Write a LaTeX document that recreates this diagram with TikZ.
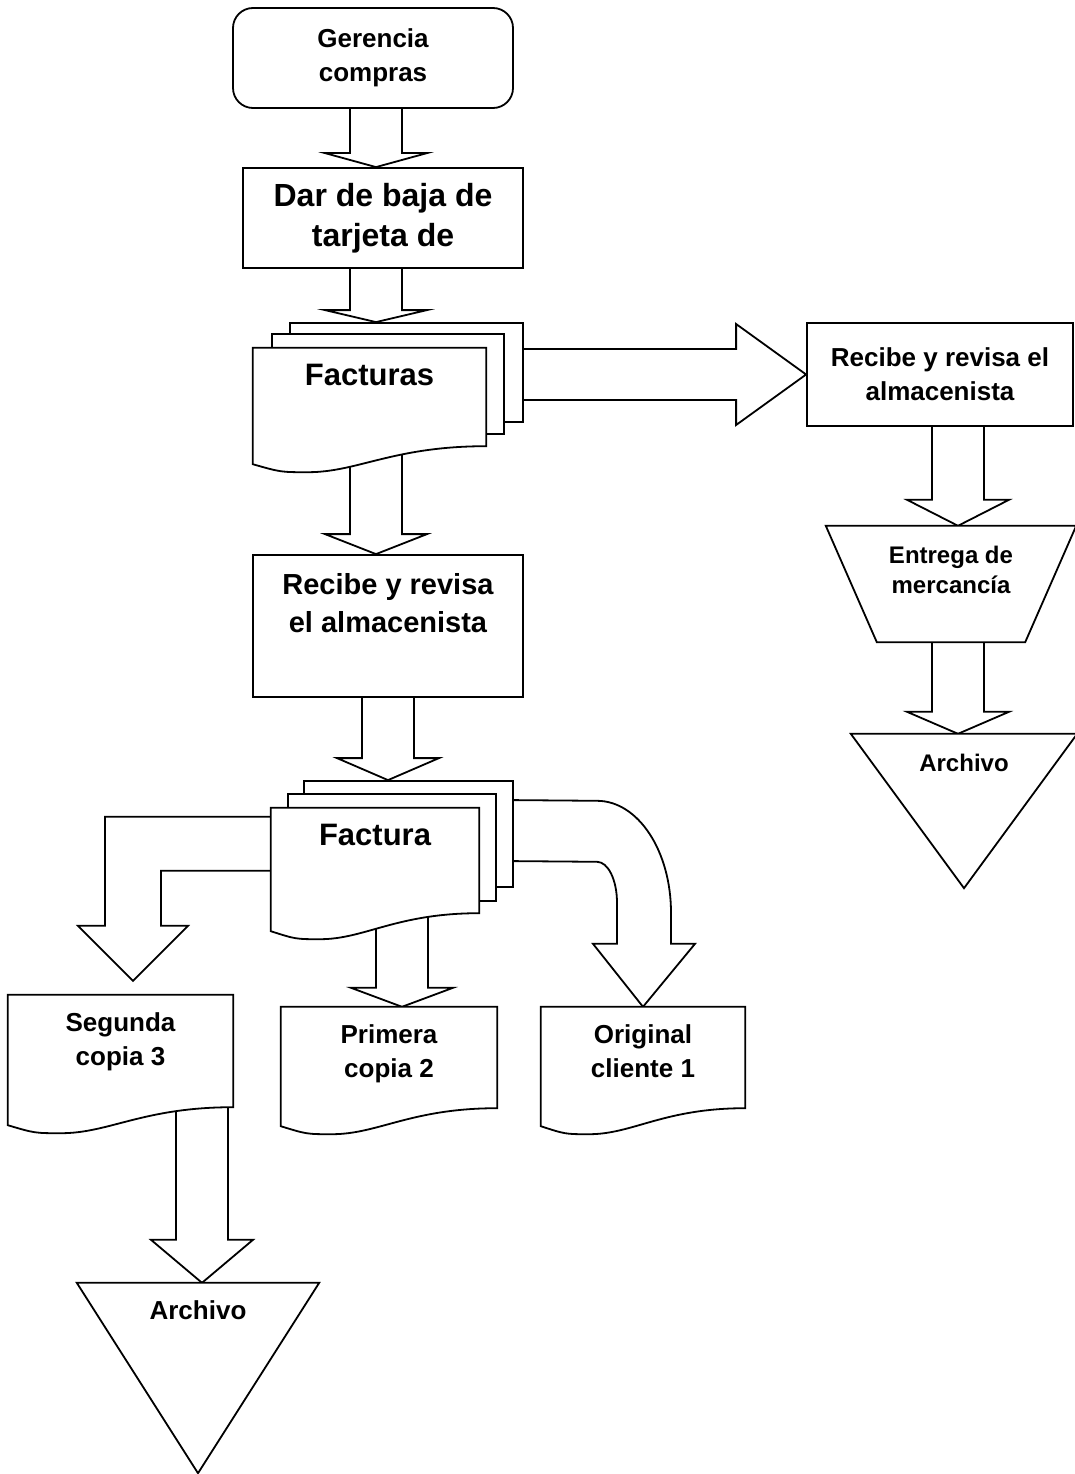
\documentclass[tikz,border=0pt]{standalone}
\usepackage{fontspec}
\setmainfont{Liberation Sans}
\usetikzlibrary{positioning, calc, backgrounds}

\tikzset{
  outline/.style={draw=black, line width=1.8pt},
  procbox/.style={rectangle, outline, fill=white, inner sep=0pt, align=center},
  pagebox/.style={rectangle, outline, fill=white, inner sep=0pt},
  docbody/.style={rectangle, inner sep=0pt},
  doctext/.style={inner sep=0pt, align=center},
  blockarrow/.style={outline, fill=white},
  hugefont/.style={font=\fontsize{32}{40}\selectfont\bfseries},
  bigfont/.style={font=\fontsize{31}{38}\selectfont\bfseries},
  midfont/.style={font=\fontsize{29}{38}\selectfont\bfseries},
  normfont/.style={font=\fontsize{26}{34}\selectfont\bfseries},
  smallfont/.style={font=\fontsize{24}{30}\selectfont\bfseries},
}

% document sheet with wavy bottom, drawn round a named node
\newcommand{\docshape}[2]{%
  \draw[outline, fill=white] (#1.north west) -- (#1.north east) -- (#1.south east)
    .. controls ($(#1.south east)+(-0.4*#2,0)$) and ($(#1.south east)+(-0.55*#2,26)$)
    .. ($(#1.south east)+(-0.765*#2,26)$)
    .. controls ($(#1.south west)+(0.12*#2,26)$) .. ($(#1.south west)+(0,18)$) -- cycle;}

% manual operation (narrow at the bottom) round a named node
\newcommand{\trapshape}[2]{%
  \draw[outline, fill=white] (#1.north west) -- (#1.north east)
    -- ($(#1.south east)+(-#2,0)$) -- ($(#1.south west)+(#2,0)$) -- cycle;}

% file (triangle pointing down) round a named node
\newcommand{\archshape}[1]{%
  \draw[outline, fill=white] (#1.north west) -- (#1.north east) -- (#1.south) -- cycle;}

% hollow block arrow pointing down
\newcommand{\blockdown}[3]{%
  \draw[blockarrow] ($#1+(-26,0)$) -- ($#2+(-26,-#3)$) -- ($#2+(-51,-#3)$) -- #2
    -- ($#2+(51,-#3)$) -- ($#2+(26,-#3)$) -- ($#1+(26,0)$);}

\begin{document}
\begin{tikzpicture}[x=1pt, y=-1pt]
  \useasboundingbox (0,0) rectangle (1075,1474);

  % --- main column ---
  \node[procbox, normfont, rounded corners=20pt, minimum width=280pt, minimum height=100pt]
    (ger) at (373,58) {Gerencia\\compras};
  \node[procbox, hugefont, minimum width=280pt, minimum height=100pt]
    (dar) at (383,218) {Dar de baja de\\tarjeta de};

  \node[pagebox, minimum width=233pt, minimum height=99pt] (facs3) at (406.5,372.5) {};
  \node[pagebox, minimum width=232pt, minimum height=100pt] (facs2) at (388,384) {};
  \node[docbody, minimum width=233pt, minimum height=98pt] (facs) at (369.5,397) {};
  \docshape{facs}{233}
  \node[doctext, bigfont, below=16pt of facs.north] (facs-txt) {Facturas};

  \node[procbox, minimum width=270pt, minimum height=142pt] (rec) at (388,626) {};
  \node[doctext, midfont, below=19pt of rec.north] (rec-txt) {Recibe y revisa\\el almacenista};

  \node[pagebox, minimum width=209pt, minimum height=106pt] (fac3) at (408.5,834) {};
  \node[pagebox, minimum width=208pt, minimum height=107pt] (fac2) at (392,847.5) {};
  \node[docbody, minimum width=208pt, minimum height=105pt] (fac) at (375,860.5) {};
  \docshape{fac}{208}
  \node[doctext, bigfont, below=16pt of fac.north] (fac-txt) {Factura};

  % --- copies ---
  \node[docbody, minimum width=225pt, minimum height=112pt] (seg) at (120.5,1051) {};
  \docshape{seg}{225}
  \node[doctext, normfont, below=18pt of seg.north] (seg-txt) {Segunda\\copia 3};

  \node[docbody, minimum width=216pt, minimum height=101pt] (pri) at (389,1057.5) {};
  \docshape{pri}{216}
  \node[doctext, normfont, below=18pt of pri.north] (pri-txt) {Primera\\copia 2};

  \node[docbody, minimum width=204pt, minimum height=101pt] (ori) at (643,1057.5) {};
  \docshape{ori}{204}
  \node[doctext, normfont, below=18pt of ori.north] (ori-txt) {Original\\cliente 1};

  \node[docbody, minimum width=242pt, minimum height=190pt] (arch1) at (198,1378) {};
  \archshape{arch1}
  \node[doctext, normfont, below=17.5pt of arch1.north] (arch1-txt) {Archivo};

  % --- right column ---
  \node[procbox, normfont, minimum width=266pt, minimum height=103pt]
    (rrec) at (940,374.5) {Recibe y revisa el\\almacenista};
  \node[docbody, minimum width=250pt, minimum height=116pt] (ent) at (951,584) {};
  \trapshape{ent}{51}
  \node[doctext, smallfont, below=20pt of ent.north] (ent-txt) {Entrega de\\mercancía};
  \node[docbody, minimum width=226pt, minimum height=154pt] (arch2) at (964,811) {};
  \archshape{arch2}
  \node[doctext, smallfont, below=20pt of arch2.north] (arch2-txt) {Archivo};

  % --- block arrows ---
  \coordinate (colA) at (376,0);
  \coordinate (colB) at (402,0);
  \coordinate (colC) at (958,0);
  \coordinate (colD) at (202,0);
  \coordinate (segtip) at ($(seg.north)+(12.5,-14)$);
  \coordinate (oritip) at (ori.north);
  \begin{scope}[on background layer]
    \blockdown{(colA |- ger.south)}{(colA |- dar.north)}{14}
    \blockdown{(colA |- dar.south)}{(colA |- facs3.north)}{12}
    \blockdown{(colA |- facs.south)}{(colA |- rec.north)}{20}
    \blockdown{(rec.south)}{(rec.south |- fac3.north)}{22}
    \blockdown{(colB |- fac.south)}{(colB |- pri.north)}{19}
    \blockdown{(colD |- seg.south)}{(colD |- arch1.north)}{43}
    \blockdown{(colC |- rrec.south)}{(colC |- ent.north)}{26}
    \blockdown{(colC |- ent.south)}{(colC |- arch2.north)}{22}

    \draw[blockarrow] ($(facs3.east |- rrec.west)+(0,-25.5)$) -- ($(rrec.west)+(-70,-25.5)$)
      -- ($(rrec.west)+(-70,-50.5)$) -- (rrec.west) -- ($(rrec.west)+(-70,50.5)$)
      -- ($(rrec.west)+(-70,25.5)$) -- ($(facs3.east |- rrec.west)+(0,25.5)$);

    \draw[blockarrow] ($(fac.north west)+(0,9)$) -| ($(segtip)+(-28,-55)$) -- ++(-27,0)
      -- (segtip) -- ($(segtip)+(55,-55)$) -- ++(-27,0) |- ($(fac.north west)+(0,63)$);

    \draw[blockarrow] ($(fac3.north east)+(0,20)$) -- ($(oritip)+(-46,-206)$)
      .. controls ($(oritip)+(-5,-206)$) and ($(oritip)+(28,-156)$) .. ($(oritip)+(28,-94)$)
      -- ($(oritip)+(28,-63)$) -- ($(oritip)+(52,-63)$) -- (oritip)
      -- ($(oritip)+(-50,-63)$) -- ($(oritip)+(-26,-63)$) -- ($(oritip)+(-26,-104)$)
      .. controls ($(oritip)+(-26,-127)$) and ($(oritip)+(-35,-145)$) .. ($(oritip)+(-46,-145)$)
      -- ($(fac3.north east)+(0,81)$);
  \end{scope}
\end{tikzpicture}
\end{document}
